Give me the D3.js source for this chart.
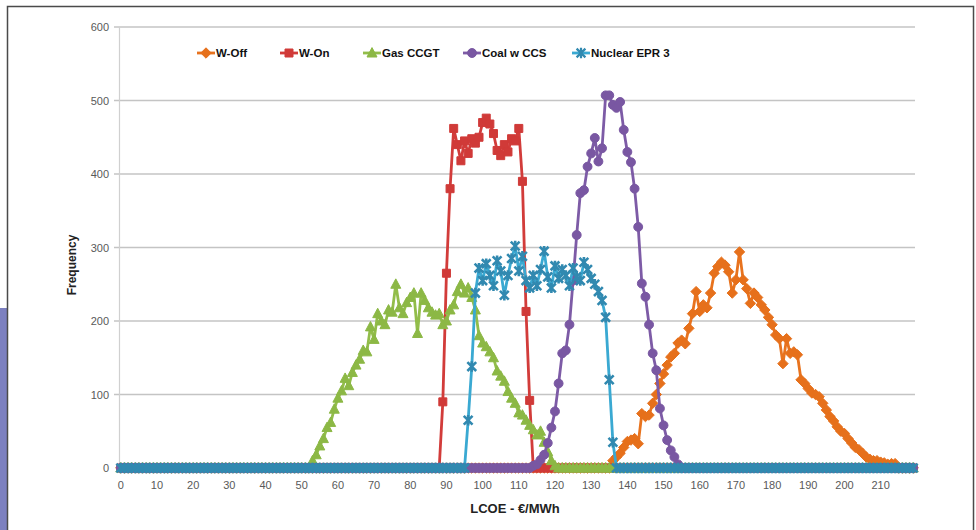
<!DOCTYPE html>
<html>
<head>
<meta charset="utf-8">
<script src="https://cdn.jsdelivr.net/npm/d3@7"></script>
<style>
  body { margin: 0; background: #fff; }
  text { font-family: "Liberation Sans Narrow", "Liberation Sans", Arial, sans-serif; }
</style>
</head>
<body>
<script>
// categories = LCOE bins, one per €/MWh
const categories = d3.range(0, 220);
const xTickLabels = d3.range(0, 220, 10);
const yTicks = [0, 100, 200, 300, 400, 500, 600];

const seriesNames = ["W-Off", "W-On", "Gas CCGT", "Coal w CCS", "Nuclear EPR 3"];

const wOffStart = 135;
const wOffValues = [0,10,15,20,28,36,38,40,33,74,70,72,88,100,115,128,140,151,156,170,174,169,190,210,240,213,222,218,238,265,274,280,276,267,238,256,294,256,244,224,238,232,222,215,205,195,181,176,142,176,156,158,154,120,115,108,102,100,97,88,79,70,64,56,50,47,40,34,28,25,20,15,12,10,10,8,7,5,6,6,0];

const wOnStart = 88;
const wOnValues = [0,90,265,380,462,440,418,445,428,448,442,450,470,476,468,455,432,425,440,430,448,445,462,390,213,92,0];

const gasStart = 52;
const gasValues = [0,10,18,30,40,55,62,80,95,105,122,112,130,140,148,160,158,192,175,210,200,195,215,212,250,218,210,225,232,238,183,238,228,218,212,208,210,195,200,215,222,240,250,238,245,232,215,180,170,165,158,150,132,125,118,104,95,88,75,72,65,58,52,45,50,35,22,10,3,0];

const coalStart = 113;
const coalValues = [0,3,5,11,18,34,55,77,115,156,160,195,255,317,374,378,410,428,449,417,435,507,507,494,490,498,460,430,416,380,328,251,233,195,156,133,81,58,38,24,15,5,0];

const nuclearStart = 95;
const nuclearValues = [0,65,138,238,272,255,278,262,248,282,268,235,262,285,302,268,288,255,245,262,248,270,295,260,245,275,258,270,262,248,272,260,255,280,270,258,250,240,228,205,120,35,0];

function fullSeries(start, vals) {
  return categories.map(function (c) {
    return (c >= start && c < start + vals.length) ? vals[c - start] : 0;
  });
}

const series = [
  { name: seriesNames[0], values: fullSeries(wOffStart, wOffValues), line: "#e8731e", mark: "#e6701b", shape: "diamond" },
  { name: seriesNames[1], values: fullSeries(wOnStart, wOnValues), line: "#d23c3a", mark: "#d03a38", shape: "square" },
  { name: seriesNames[2], values: fullSeries(gasStart, gasValues), line: "#92bd4a", mark: "#8cb845", shape: "triangle" },
  { name: seriesNames[3], values: fullSeries(coalStart, coalValues), line: "#7d5ba6", mark: "#7957a2", shape: "circle" },
  { name: seriesNames[4], values: fullSeries(nuclearStart, nuclearValues), line: "#3aa9d2", mark: "#3189b0", shape: "star" }
];

const W = 976, H = 530;
const svg = d3.select("body").append("svg").attr("width", W).attr("height", H);

// frame and the blue strip on the left edge
svg.append("rect").attr("x", 0).attr("y", 308).attr("width", 7).attr("height", 222).attr("fill", "#7c80c0");
svg.append("rect").attr("x", 7.5).attr("y", 6.5).attr("width", 966).attr("height", 540)
  .attr("fill", "none").attr("stroke", "#4a4a4a").attr("stroke-width", 1.5);

const x = d3.scalePoint().domain(categories).range([119, 915]).padding(0.5);
const y = d3.scaleLinear().domain([0, 600]).range([468, 27]);

// grid
svg.append("g").selectAll("line").data(yTicks.filter(function (d) { return d > 0; })).join("line")
  .attr("x1", 114).attr("x2", 915)
  .attr("y1", function (d) { return y(d); }).attr("y2", function (d) { return y(d); })
  .attr("stroke", "#c4c4c4").attr("stroke-width", 1.5);
svg.append("line").attr("x1", 119.5).attr("x2", 119.5).attr("y1", y(600)).attr("y2", y(0))
  .attr("stroke", "#d0d0d0").attr("stroke-width", 1.2);

// y labels
svg.append("g").selectAll("text").data(yTicks).join("text")
  .attr("x", 109).attr("y", function (d) { return y(d) + 4; })
  .attr("text-anchor", "end").attr("font-size", 11).attr("fill", "#595959")
  .text(function (d) { return d; });

// x labels
svg.append("g").selectAll("text").data(xTickLabels).join("text")
  .attr("x", function (d) { return x(d); }).attr("y", 489)
  .attr("text-anchor", "middle").attr("font-size", 11).attr("fill", "#595959")
  .text(function (d) { return d; });

svg.append("text").attr("x", 515).attr("y", 513).attr("text-anchor", "middle")
  .attr("font-size", 13).attr("font-weight", "bold").attr("fill", "#222")
  .text("LCOE - €/MWh");
svg.append("text").attr("transform", "translate(76,265) rotate(-90)").attr("text-anchor", "middle")
  .attr("font-size", 12).attr("font-weight", "bold").attr("fill", "#222")
  .text("Frequency");

function markerPath(shape) {
  if (shape === "diamond") return "M0,-5.2L5.2,0L0,5.2L-5.2,0Z";
  if (shape === "square") return "M-4,-4H4V4H-4Z";
  if (shape === "triangle") return "M0,-5.4L5,4H-5Z";
  if (shape === "circle") return d3.symbol().type(d3.symbolCircle).size(62)();
  return "M0,-5.2V5.2M-4.4,-4.4L4.4,4.4M-4.4,4.4L4.4,-4.4";
}

const line = d3.line()
  .x(function (d, i) { return x(categories[i]); })
  .y(function (d) { return y(d); });

series.forEach(function (s) {
  const g = svg.append("g");
  g.append("path").datum(s.values).attr("d", line)
    .attr("fill", "none").attr("stroke", s.line).attr("stroke-width", 2.8).attr("stroke-linejoin", "round");
  const isStar = s.shape === "star";
  g.selectAll("path.m").data(s.values).join("path").attr("class", "m")
    .attr("transform", function (d, i) { return "translate(" + x(categories[i]) + "," + y(d) + ")"; })
    .attr("d", markerPath(s.shape))
    .attr("fill", isStar ? "none" : s.mark)
    .attr("stroke", s.mark).attr("stroke-width", isStar ? 2.6 : 1);
});

// legend
const legendX = [197, 280, 363, 463, 572];
const legend = svg.append("g").selectAll("g").data(series).join("g")
  .attr("transform", function (d, i) { return "translate(" + legendX[i] + ",53)"; });
legend.append("line").attr("x1", 0).attr("x2", 18).attr("y1", 0).attr("y2", 0)
  .attr("stroke", function (d) { return d.line; }).attr("stroke-width", 2.8);
legend.append("path").attr("transform", "translate(9,0)")
  .attr("d", function (d) { return markerPath(d.shape); })
  .attr("fill", function (d) { return d.shape === "star" ? "none" : d.mark; })
  .attr("stroke", function (d) { return d.mark; })
  .attr("stroke-width", function (d) { return d.shape === "star" ? 2.2 : 1; });
legend.append("text").attr("x", 19).attr("y", 4)
  .attr("font-size", 11.5).attr("font-weight", "bold").attr("fill", "#111")
  .text(function (d) { return d.name; });
</script>
</body>
</html>
